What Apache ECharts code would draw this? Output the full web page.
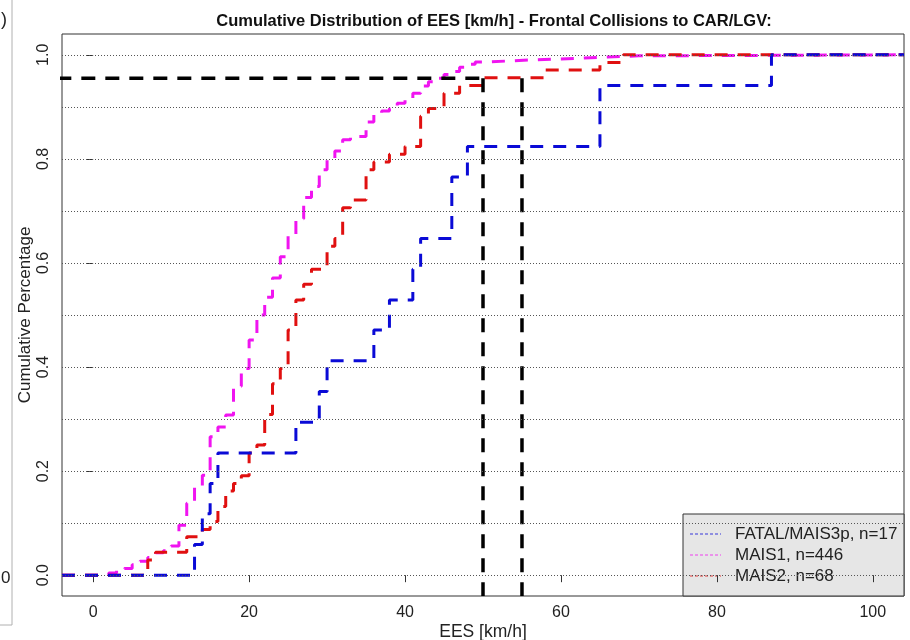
<!DOCTYPE html>
<html>
<head>
<meta charset="utf-8">
<script src="https://cdn.jsdelivr.net/npm/echarts@6/dist/echarts.min.js"></script>
<style>html,body{margin:0;padding:0;background:#fff;}#c{width:910px;height:640px;}</style>
</head>
<body>
<div id="c"></div>
<script>
// ---- data ----
const titleText = 'Cumulative Distribution of EES [km/h] - Frontal Collisions to CAR/LGV:';
const xTicks = [0, 20, 40, 60, 80, 100];
const yTicks = [0, 0.2, 0.4, 0.6, 0.8, 1.0];
const gridLevels = [0, 0.1, 0.2, 0.3, 0.4, 0.5, 0.6, 0.7, 0.8, 0.9, 1.0];
const legendNames = ['FATAL/MAIS3p, n=17', 'MAIS1, n=446', 'MAIS2, n=68'];

// FATAL/MAIS3p (n=17): jump position, cumulative share after jump
const fatalX = [-4, 13, 14, 15, 16, 26, 29, 30, 36, 38, 41, 42, 46, 48, 65, 87, 104];
const fatalY = [0, 0.059, 0.118, 0.176, 0.235, 0.294, 0.353, 0.412, 0.471, 0.529, 0.588, 0.647, 0.765, 0.824, 0.941, 1, 1];

// MAIS1 (n=446)
const mais1X = [-4, 2, 3, 4, 5, 6, 7, 8, 9, 10, 11, 12, 13, 14, 15, 16, 17, 18, 19, 20, 21, 22, 23, 24, 25, 26, 27, 28, 29, 30, 31, 32, 33, 35, 36, 37, 38, 39, 40, 41, 42, 43, 44, 45, 46, 47, 48, 49, 50, 53, 56, 60, 63, 66, 70, 104];
const mais1Y = [0, 0.004, 0.009, 0.013, 0.020, 0.027, 0.034, 0.043, 0.047, 0.056, 0.096, 0.138, 0.170, 0.192, 0.266, 0.285, 0.308, 0.363, 0.397, 0.452, 0.500, 0.534, 0.571, 0.612, 0.654, 0.685, 0.726, 0.747, 0.779, 0.798, 0.815, 0.837, 0.843, 0.871, 0.888, 0.892, 0.897, 0.907, 0.915, 0.926, 0.940, 0.948, 0.955, 0.962, 0.968, 0.976, 0.982, 0.986, 0.988, 0.990, 0.992, 0.994, 0.996, 0.998, 1, 1];

// MAIS2 (n=68)
const mais2X = [-4, 7, 8, 12, 14, 15, 16, 17, 18, 19, 20, 21, 22, 23, 24, 25, 26, 27, 28, 30, 31, 32, 33, 35, 36, 38, 40, 42, 43, 45, 47, 50, 58, 65, 68, 104];
const mais2Y = [0, 0.029, 0.044, 0.074, 0.088, 0.103, 0.132, 0.162, 0.176, 0.191, 0.235, 0.250, 0.309, 0.368, 0.397, 0.471, 0.529, 0.559, 0.588, 0.632, 0.647, 0.706, 0.721, 0.779, 0.794, 0.809, 0.824, 0.882, 0.897, 0.926, 0.941, 0.956, 0.971, 0.985, 1, 1];

// reference (black) lines
const refLevel = 0.955;
const refStartX = -4.6;
const refX = [50, 55];

// ---- chart ----
const FONT = 'Liberation Sans, Arial, sans-serif';
const colFatal = '#0a0ad6', colM1 = '#f014f0', colM2 = '#e01010';
const pairs = (xs, ys) => xs.map((x, i) => [x, ys[i]]);

const stepSeries = (name, xs, ys, color) => ({
  name, type: 'line', step: 'end', data: pairs(xs, ys),
  showSymbol: false, symbol: 'none', silent: true, animation: false,
  lineStyle: { color, width: 3, type: [13, 10] }
});

const chart = echarts.init(document.getElementById('c'), null, { renderer: 'canvas' });
const W = 910, H = 640;
const gridL = 62, gridR = 6, gridT = 34, gridB = 44;
const legX = 683, legY = 514, legW = W - gridR - legX, legH = H - gridB - legY;
const legendRows = [534, 555, 576];
const legendCols = [colFatal, colM1, colM2];

const graphics = [
  { type: 'line', shape: { x1: 12, y1: 0, x2: 12, y2: 625 }, style: { stroke: '#b0b0b0', lineWidth: 1 }, z: 0 },
  { type: 'line', shape: { x1: 0, y1: 625, x2: 12, y2: 625 }, style: { stroke: '#b0b0b0', lineWidth: 1 }, z: 0 },
  { type: 'text', left: 1, top: 11, style: { text: ')', font: '18px ' + FONT, fill: '#222' }, z: 0 },
  { type: 'text', left: 1, top: 570, style: { text: '0', font: '17px ' + FONT, fill: '#222' }, z: 0 },
  { type: 'rect', shape: { x: legX, y: legY, width: legW, height: legH }, style: { fill: '#e6e6e6', stroke: '#333', lineWidth: 1 }, z: 0 }
];
legendNames.forEach((n, i) => {
  graphics.push({ type: 'line', shape: { x1: 690, y1: legendRows[i], x2: 721, y2: legendRows[i] }, style: { stroke: legendCols[i], lineWidth: 1, lineDash: [3, 2], opacity: 0.8 }, z: 0 });
  graphics.push({ type: 'text', x: 735, y: legendRows[i], style: { text: n, font: '17px ' + FONT, fill: '#222', verticalAlign: 'middle' }, z: 0 });
});

const option = {
  animation: false,
  backgroundColor: '#fff',
  title: {
    text: titleText, left: 489, top: 8, textAlign: 'center',
    textStyle: { fontFamily: FONT, fontSize: 16.5, fontWeight: 'bold', color: '#111' }
  },
  grid: { left: gridL, right: gridR, top: gridT, bottom: gridB, show: true, borderColor: '#333', borderWidth: 1,
    backgroundColor: 'transparent', containLabel: false, outerBoundsMode: 'none' },
  xAxis: {
    type: 'value', min: -4, max: 104,
    name: 'EES [km/h]', nameLocation: 'middle', nameGap: 27, nameMoveOverlap: false,
    nameTextStyle: { fontFamily: FONT, fontSize: 17.5, color: '#222' },
    axisLine: { show: false },
    axisTick: { show: true, inside: false, length: 7, customValues: xTicks, lineStyle: { color: '#333' } },
    axisLabel: { customValues: xTicks, margin: 9, fontFamily: FONT, fontSize: 16, color: '#222' },
    splitLine: { show: false }
  },
  yAxis: {
    type: 'value', min: -0.04, max: 1.04,
    name: 'Cumulative Percentage', nameLocation: 'middle', nameGap: 28, nameRotate: 90, nameMoveOverlap: false,
    nameTextStyle: { fontFamily: FONT, fontSize: 17, color: '#222' },
    axisLine: { show: false },
    axisTick: { show: true, inside: false, length: 7, customValues: yTicks, lineStyle: { color: '#333' } },
    axisLabel: { customValues: yTicks, rotate: 90, margin: 10, fontFamily: FONT, fontSize: 16, color: '#222',
      formatter: v => v.toFixed(1) },
    splitLine: { show: false }
  },
  graphic: graphics,
  series: [
    { type: 'line', data: [], silent: true, markLine: {
        silent: true, symbol: 'none', animation: false, label: { show: false },
        lineStyle: { color: '#555', width: 1, type: [1, 2] },
        data: gridLevels.map(v => ({ yAxis: v }))
    } },
    stepSeries(legendNames[1], mais1X, mais1Y, colM1),
    stepSeries(legendNames[2], mais2X, mais2Y, colM2),
    stepSeries(legendNames[0], fatalX, fatalY, colFatal),
    { type: 'line', data: [[refStartX, refLevel], [refX[0], refLevel]], clip: false, showSymbol: false, symbol: 'none', silent: true,
      lineStyle: { color: '#000', width: 3.5, type: [14, 10] } },
    { type: 'line', data: [[refX[0], refLevel], [refX[0], -0.04]], showSymbol: false, symbol: 'none', silent: true,
      lineStyle: { color: '#000', width: 3.5, type: [14, 10] } },
    { type: 'line', data: [[refX[1], refLevel], [refX[1], -0.04]], showSymbol: false, symbol: 'none', silent: true,
      lineStyle: { color: '#000', width: 3.5, type: [14, 10] } }
  ]
};
chart.setOption(option);
</script>
</body>
</html>
